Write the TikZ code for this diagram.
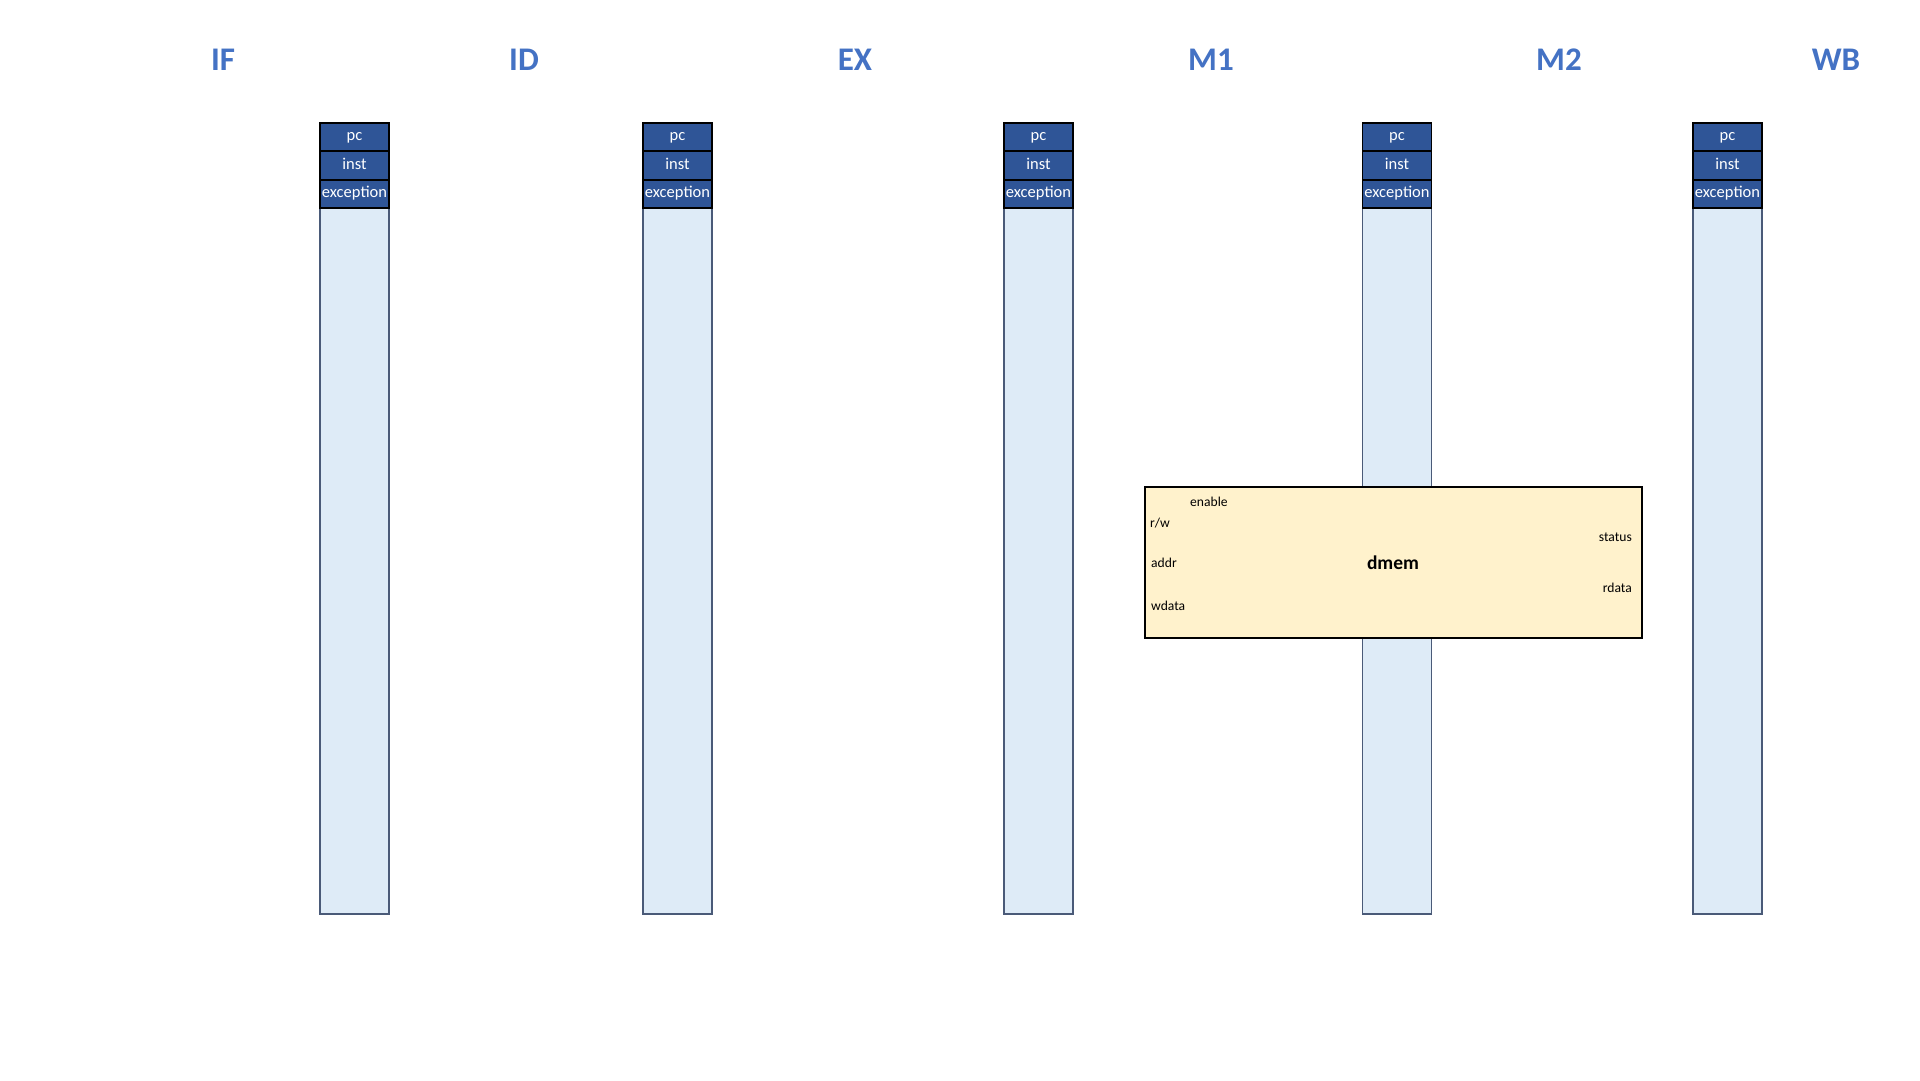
\documentclass[tikz,border=0pt]{standalone}
\usepackage{fontspec}
\setmainfont{Carlito}
\definecolor{stagec}{HTML}{4472C4}
\definecolor{hdrc}{HTML}{2F5597}
\definecolor{bodyc}{HTML}{DEEBF7}
\definecolor{bodyline}{HTML}{4A5A78}
\definecolor{memc}{HTML}{FFF2CC}
\tikzset{
  stagelbl/.style={font=\fontsize{33}{38}\selectfont\bfseries, text=stagec, inner sep=0pt},
  hdrcell/.style={draw=black, line width=1.6pt, fill=hdrc, text=white, minimum width=69pt, minimum height=28pt, inner sep=0pt, text height=11pt, text depth=3.2pt, font=\fontsize{16.5}{19}\selectfont, anchor=north},
  regbody/.style={draw=bodyline, line width=1.6pt, fill=bodyc, minimum width=69pt, inner sep=0pt, anchor=north},
  membox/.style={draw=black, line width=1.8pt, fill=memc, inner sep=0pt},
  portl/.style={font=\fontsize{13.6}{16}\selectfont, inner sep=0pt},
}
\newcommand{\pipereg}[2]{%
  \node[regbody, minimum height=791pt] (#1body) at (#2,122) {};
  \node[hdrcell] (#1pc) at (#2,122) {pc};
  \node[hdrcell] (#1inst) at (#2,150.5) {inst};
  \node[hdrcell] (#1exc) at (#2,179) {exception};
}
\begin{document}
\begin{tikzpicture}[x=1pt,y=-1pt]
\useasboundingbox (0,0) rectangle (1920,1080);
\fill[white] (0,0) rectangle (1920,1080);
% stage labels
\node[stagelbl] (sIF) at (223,59.5) {IF};
\node[stagelbl] (sID) at (524,59.5) {ID};
\node[stagelbl] (sEX) at (855,59.5) {EX};
\node[stagelbl] (sM1) at (1211,59.5) {M1};
\node[stagelbl] (sM2) at (1559,59.5) {M2};
\node[stagelbl] (sWB) at (1836,59.5) {WB};
% pipeline registers
\pipereg{rA}{354.5}
\pipereg{rB}{677.5}
\pipereg{rC}{1038.5}
\pipereg{rD}{1397}
\pipereg{rE}{1727.5}
% dmem
\node[membox, minimum width=497pt, minimum height=151pt] (dmem) at (1393.5,562.5) {};
\node[font=\fontsize{19.5}{22}\selectfont\bfseries, inner sep=0pt] (dmemlbl) at (1393,563) {dmem};
\node[portl, anchor=west] (penable) at (1190,502) {enable};
\node[portl, anchor=west] (prw) at (1150,523) {r/w};
\node[portl, anchor=west] (paddr) at (1151,563) {addr};
\node[portl, anchor=west] (pwdata) at (1151,606) {wdata};
\node[portl, anchor=east] (pstatus) at (1632,537) {status};
\node[portl, anchor=east] (prdata) at (1632,588) {rdata};
\end{tikzpicture}
\end{document}
